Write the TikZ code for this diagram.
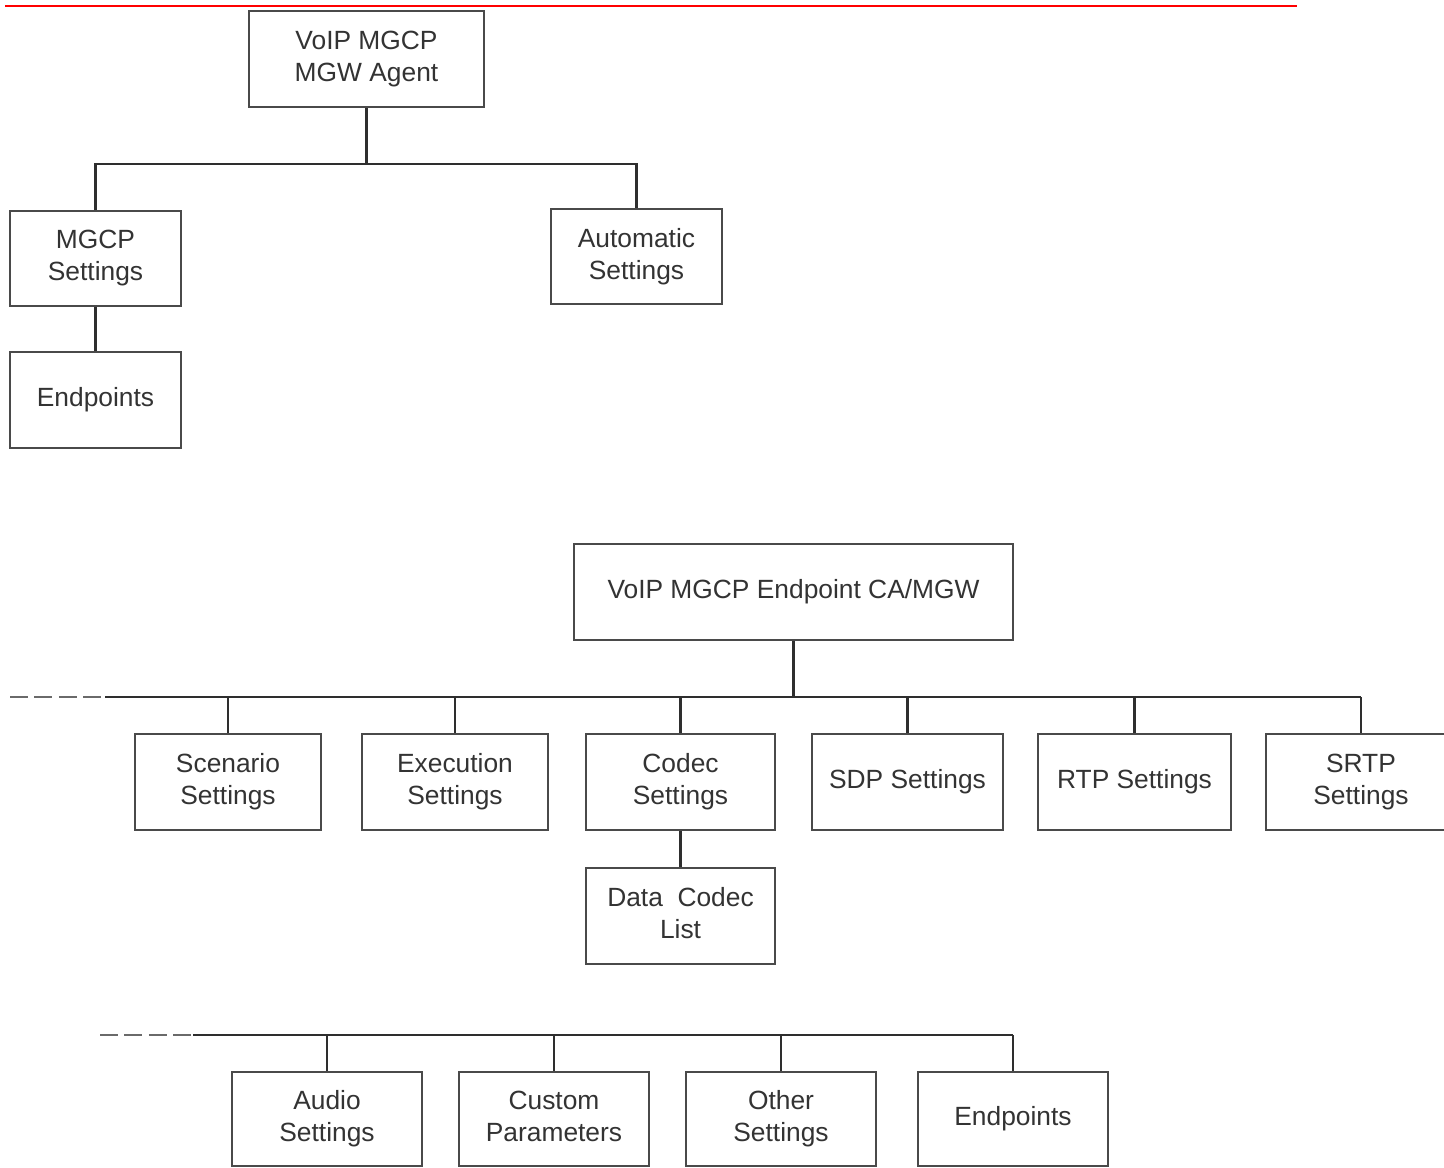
\documentclass[tikz,border=0pt]{standalone}
\usepackage{fontspec}
\setmainfont{Liberation Sans}
\usepackage{xcolor}
\usepackage{tikz}
\usetikzlibrary{positioning}
\definecolor{BoxGray}{HTML}{4A4A4A}
\definecolor{LineGray}{HTML}{2E2E2E}
\definecolor{DashGray}{HTML}{6A6A6A}
\definecolor{TextGray}{HTML}{333333}
\definecolor{HeadRed}{HTML}{FF0000}

\begin{document}
\begin{tikzpicture}[x=0.02cm, y=-0.02cm]
  \tikzstyle{box} = [rectangle, draw=BoxGray, line width=1.2pt, fill=white, text=TextGray, align=center, inner sep=0pt, font=\fontsize{15}{18.2}\selectfont]
  \tikzstyle{link} = [draw=LineGray, line width=1.2pt]
  \tikzstyle{stub} = [draw=DashGray, line width=1.5pt, dash pattern=on 0.36cm off 0.13cm]

  \useasboundingbox (0,0) rectangle (1444,1167);
  \draw[HeadRed, line width=1.2pt] (5,6) -- (1297,6);

  % agent tree
  \node [box, minimum width=4.7cm, minimum height=1.92cm] (agent) at (366.5,59) {VoIP MGCP\\MGW Agent};
  \node [box, minimum width=3.42cm, minimum height=1.9cm] (mgcpset) at (95.5,258.5) {MGCP\\Settings};
  \node [box, minimum width=3.42cm, minimum height=1.9cm] (autoset) at (636.5,256.5) {Automatic\\Settings};
  \node [box, minimum width=3.42cm, minimum height=1.92cm, below=0.88cm of mgcpset] (endp) {Endpoints};

  \coordinate (top1) at (366.5,164);
  \draw[link] (agent.south) -- (top1);
  \draw[link] (mgcpset.north) |- (top1) -| (autoset.north);
  \draw[link] (mgcpset.south) -- (endp.north);

  % endpoint tree
  \node [box, minimum width=8.78cm, minimum height=1.92cm] (epca) at (793.5,592) {VoIP MGCP Endpoint CA/MGW};

  \node [box, minimum width=3.72cm, minimum height=1.92cm] (scenset) at (228,782) {Scenario\\Settings};
  \node [box, minimum width=3.72cm, minimum height=1.92cm] (execset) at (455,782) {Execution\\Settings};
  \node [box, minimum width=3.78cm, minimum height=1.92cm] (codecset) at (680.5,782) {Codec\\Settings};
  \node [box, minimum width=3.82cm, minimum height=1.92cm] (sdpset) at (907.5,782) {SDP Settings};
  \node [box, minimum width=3.86cm, minimum height=1.92cm] (rtpset) at (1134.5,782) {RTP Settings};
  \node [box, minimum width=3.8cm, minimum height=1.92cm] (srtpset) at (1361,782) {SRTP\\Settings};
  \node [box, minimum width=3.78cm, minimum height=1.92cm, below=0.72cm of codecset] (datacodec) {Data~~Codec\\List\vphantom{g}};

  \coordinate (bus2s) at (10,697);
  \coordinate (bus2w) at (105,697);
  \coordinate (bus2e) at (1361,697);
  \draw[stub] (bus2s) -- (bus2w);
  \draw[link] (bus2w) -- (bus2e);
  \draw[link] (epca.south) -- (epca.south |- bus2w);
  \foreach \n in {scenset, execset, codecset, sdpset, rtpset, srtpset}
    \draw[link] (\n.north) -- (\n.north |- bus2w);
  \draw[link] (codecset.south) -- (datacodec.north);

  % second row
  \node [box, minimum width=3.8cm, minimum height=1.88cm] (audioset) at (327,1119) {Audio\\Settings};
  \node [box, minimum width=3.8cm, minimum height=1.88cm] (custparam) at (554,1119) {Custom\\Parameters\vphantom{g}};
  \node [box, minimum width=3.8cm, minimum height=1.88cm] (otherset) at (781,1119) {Other\\Settings};
  \node [box, minimum width=3.8cm, minimum height=1.88cm] (endp2) at (1013,1119) {Endpoints};

  \coordinate (bus3s) at (100,1035);
  \coordinate (bus3w) at (193,1035);
  \coordinate (bus3e) at (1013,1035);
  \draw[stub] (bus3s) -- (bus3w);
  \draw[link] (bus3w) -- (bus3e);
  \foreach \n in {audioset, custparam, otherset, endp2}
    \draw[link] (\n.north) -- (\n.north |- bus3w);
\end{tikzpicture}
\end{document}
